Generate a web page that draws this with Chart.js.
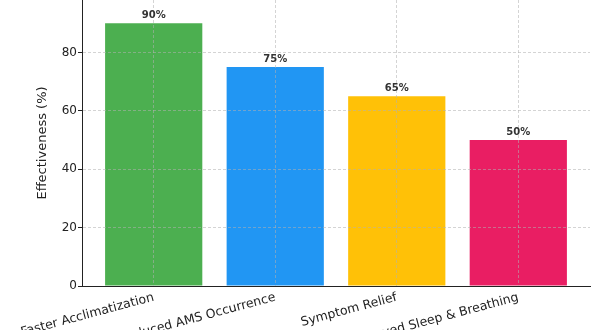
<!DOCTYPE html>
<html>
<head>
<meta charset="utf-8">
<script src="https://cdn.jsdelivr.net/npm/chart.js@4"></script>
<style>
  body { margin: 0; background: #fff; }
  #wrap { width: 600px; height: 330px; position: relative; }
</style>
</head>
<body>
<div id="wrap"><canvas id="myChart"></canvas></div>
<script>
const categories = ['Faster Acclimatization', 'Reduced AMS Occurrence', 'Symptom Relief', 'Improved Sleep & Breathing'];
const values = [90, 75, 65, 50];
const barColors = ['#4CAF50', '#2196F3', '#FFC107', '#E91E63'];
const yTicks = [0, 20, 40, 60, 80];

const gridColor = 'rgba(176,176,176,0.55)';
const font = '"DejaVu Sans", sans-serif';

// percent labels on top of the bars
const barLabels = {
  id: 'barLabels',
  afterDraw(chart) {
    const ctx = chart.ctx;
    const meta = chart.getDatasetMeta(0);
    ctx.save();
    ctx.font = 'bold 10px ' + font;
    ctx.fillStyle = '#333';
    ctx.textAlign = 'center';
    ctx.textBaseline = 'alphabetic';
    meta.data.forEach((bar, i) => {
      ctx.fillText(values[i] + '%', bar.x, bar.y - 5);
    });
    ctx.restore();
  }
};

const data = {
  datasets: [{
    data: values.map((v, i) => ({x: i, y: v})),
    backgroundColor: barColors,
    borderWidth: 0,
    barPercentage: 0.8,
    categoryPercentage: 1
  }]
};

const config = {
  type: 'bar',
  data,
  plugins: [barLabels],
  options: {
    responsive: true,
    maintainAspectRatio: false,
    animation: false,
    layout: { padding: { left: 0, right: 10, top: 0, bottom: 0 } },
    plugins: {
      legend: { display: false },
      tooltip: { enabled: false }
    },
    scales: {
      x: {
        type: 'linear',
        min: -0.59,
        max: 3.59,
        offset: false,
        afterBuildTicks: (scale) => {
          scale.ticks = categories.map((c, i) => ({value: i}));
        },
        afterFit: (scale) => {
          scale.height = 44;
          scale.paddingLeft = 0;
          scale.paddingRight = 0;
        },
        ticks: {
          autoSkip: false,
          minRotation: 15,
          maxRotation: 15,
          padding: 4,
          color: '#222',
          font: { family: font, size: 12.5 },
          callback: (v) => categories[v]
        },
        grid: {
          offset: false,
          z: 1,
          color: gridColor,
          lineWidth: 1,
          drawTicks: false
        },
        border: { color: '#222', width: 1, dash: [3, 2], z: 2 }
      },
      y: {
        min: 0,
        max: 98,
        afterBuildTicks: (scale) => {
          scale.ticks = yTicks.map(v => ({value: v}));
        },
        afterFit: (scale) => {
          scale.width = 82;
          scale.paddingTop = 0;
          scale.paddingBottom = 0;
        },
        ticks: {
          padding: 1,
          color: '#222',
          font: { family: font, size: 12 }
        },
        grid: {
          z: 1,
          color: (ctx) => ctx.tick && ctx.tick.value === 0 ? 'rgba(0,0,0,0)' : gridColor,
          lineWidth: 1,
          tickLength: 4,
          tickColor: '#222',
          tickBorderDash: []
        },
        border: { color: '#222', width: 1, dash: [3, 2], z: 2 },
        title: {
          display: true,
          text: 'Effectiveness (%)',
          color: '#222',
          font: { family: font, size: 13 },
          padding: { top: 35, bottom: 0 }
        }
      }
    }
  }
};

const myChart = new Chart(document.getElementById('myChart'), config);
</script>
</body>
</html>
